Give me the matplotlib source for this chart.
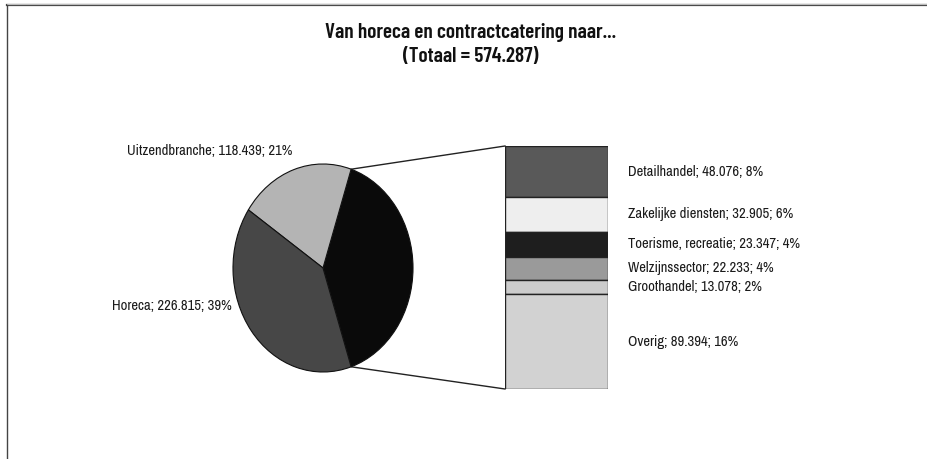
import numpy as np
import matplotlib
matplotlib.use("Agg")
import matplotlib.pyplot as plt
from matplotlib.lines import Line2D

W, H = 928, 459
FONT = ['Liberation Sans Narrow', 'Archivo Narrow', 'Liberation Sans', 'DejaVu Sans']
TFONT = ['Liberation Sans Narrow', 'Barlow Condensed', 'Archivo Narrow', 'Liberation Sans', 'DejaVu Sans']

title_lines = ["Van horeca en contractcatering naar...", "(Totaal = 574.287)"]
pie_labels = ["Overig (uitgesplitst)", "Uitzendbranche", "Horeca"]
pie_values = [229.033, 118.439, 226.815]
pie_pct = [40, 21, 39]
pie_colors = ["#0a0a0a", "#b4b4b4", "#474747"]

bar_labels = ["Detailhandel", "Zakelijke diensten", "Toerisme, recreatie",
              "Welzijnssector", "Groothandel", "Overig"]
bar_values = [48.076, 32.905, 23.347, 22.233, 13.078, 89.394]
bar_pct = [8, 6, 4, 4, 2, 16]
bar_colors = ["#595959", "#eeeeee", "#1e1e1e", "#9a9a9a", "#cccccc", "#d2d2d2"]


def fmt(v):
    return f"{v:.3f}"


fig = plt.figure(figsize=(W / 100, H / 100), dpi=100)
fig.patch.set_facecolor("white")

# overlay axes in pixel coordinates
ov = fig.add_axes([0, 0, 1, 1])
ov.set_xlim(0, W)
ov.set_ylim(H, 0)
ov.axis("off")

# frame lines (top and left)
ov.add_line(Line2D([7, W], [5, 5], color="#444444", lw=1.6))
ov.add_line(Line2D([7, W], [3.8, 3.8], color="#bbbbbb", lw=0.8))
ov.add_line(Line2D([7, 7], [5, H], color="#444444", lw=1.0))

# title
ov.text(471, 32, title_lines[0], ha="center", va="center",
        fontsize=15.3, fontweight=600, family=TFONT, color="#111111")
ov.text(471, 57, title_lines[1], ha="center", va="center",
        fontsize=15.3, fontweight=600, family=TFONT, color="#111111")

# pie axes (elliptical)
cx, cy, rx, ry = 323, 268, 90, 104
pax = fig.add_axes([(cx - rx) / W, 1 - (cy + ry) / H, 2 * rx / W, 2 * ry / H])
start = -0.5 * pie_values[0] / sum(pie_values) * 360
wedges, _ = pax.pie(pie_values, colors=pie_colors, startangle=start, counterclock=True,
                    wedgeprops=dict(edgecolor="#111111", linewidth=0.8))
pax.set_aspect("auto")
pax.set_xlim(-1, 1)
pax.set_ylim(-1, 1)
pax.axis("off")

# bar axes
bx0, bx1, by0, by1 = 505, 608, 146, 389
bax = fig.add_axes([bx0 / W, 1 - by1 / H, (bx1 - bx0) / W, (by1 - by0) / H])
total = sum(bar_values)
bottom = total
centers = []
for lab, v, c in zip(bar_labels, bar_values, bar_colors):
    bottom -= v
    bax.bar(0.5, v, width=1.0, bottom=bottom, color=c, edgecolor="#222222", linewidth=1.0)
    centers.append(bottom + v / 2)
bax.set_xlim(0, 1)
bax.set_ylim(0, total)
bax.axis("off")

for lab, v, p, yc in zip(bar_labels, bar_values, bar_pct, centers):
    bax.annotate(f"{lab}; {fmt(v)}; {p}%", xy=(1, yc), xytext=(14.4, 0),
                 textcoords="offset points", ha="left", va="center",
                 fontsize=10.5, family=FONT, color="#1a1a1a", annotation_clip=False)

# connector lines from the exploded wedge edges to the bar corners
w0 = wedges[0]
to_ov = ov.transData.inverted()
fig.canvas.draw()
for ang, by in [(w0.theta2, 1.0), (w0.theta1, 0.0)]:
    px, py = np.cos(np.radians(ang)), np.sin(np.radians(ang))
    p1 = to_ov.transform(pax.transData.transform((px, py)))
    p2 = to_ov.transform(bax.transData.transform((0, by * total)))
    ov.add_line(Line2D([p1[0], p2[0]], [p1[1], p2[1]], color="#222222", lw=1.0))

# pie labels
ov.text(292, 151, f"Uitzendbranche; {fmt(pie_values[1])}; {pie_pct[1]}%", ha="right",
        va="center", fontsize=10.5, family=FONT, color="#1a1a1a")
ov.text(232, 306, f"Horeca; {fmt(pie_values[2])}; {pie_pct[2]}%", ha="right",
        va="center", fontsize=10.5, family=FONT, color="#1a1a1a")

fig.savefig("out.png", dpi=100, facecolor="white")
